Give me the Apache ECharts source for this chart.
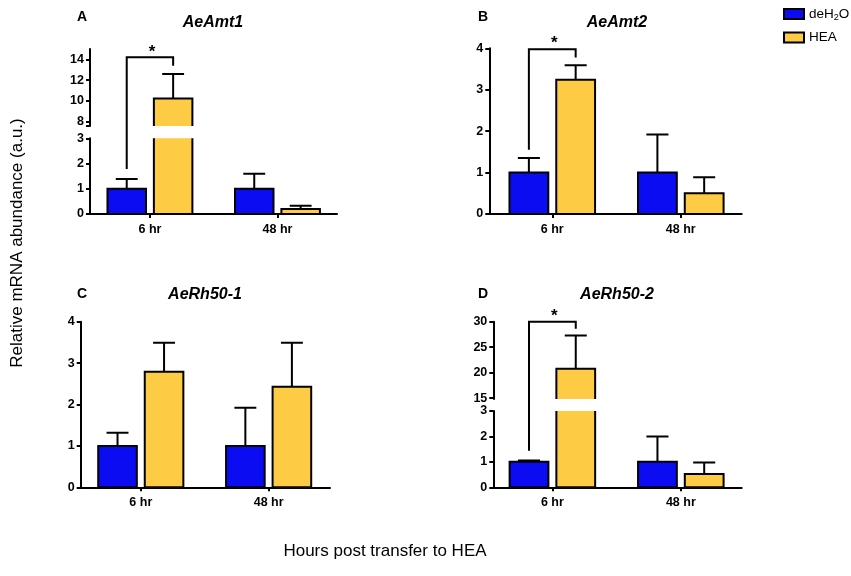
<!DOCTYPE html>
<html>
<head>
<meta charset="utf-8">
<script src="https://cdn.jsdelivr.net/npm/echarts@6.0.0/dist/echarts.min.js"></script>
<style>
  html, body { margin: 0; padding: 0; background: #fff; }
  #main { width: 851px; height: 576px; }
</style>
</head>
<body>
<div id="main"></div>
<script>
let chart = echarts.init(document.getElementById('main'));

// categories (x positions 0 and 1)
const groups = ['6 hr', '48 hr'];

// A: AeAmt1
const amt1Water = [1.0, 1.0];
const amt1WaterErr = [0.39, 0.6];
const amt1Hea = [10.25, 0.2];
const amt1HeaErr = [2.35, 0.13];

// B: AeAmt2
const amt2Water = [1.0, 1.0];
const amt2WaterErr = [0.35, 0.92];
const amt2Hea = [3.24, 0.5];
const amt2HeaErr = [0.35, 0.39];

// C: AeRh50-1
const rh1Water = [1.0, 1.0];
const rh1WaterErr = [0.32, 0.92];
const rh1Hea = [2.79, 2.43];
const rh1HeaErr = [0.7, 1.06];

// D: AeRh50-2
const rh2Water = [1.0, 1.0];
const rh2WaterErr = [0.05, 1.0];
const rh2Hea = [20.8, 0.52];
const rh2HeaErr = [6.5, 0.46];

// significance brackets: [bottom of left leg, top, bottom of right leg]
const sigA = [1.78, 14.2, 13.4];
const sigB = [1.55, 3.98, 3.78];
const sigD = [1.44, 30, 28.6];

const BLUE = '#0c0cf2';
const GOLD = '#fecb45';
const FONT = '"Liberation Sans", Arial, sans-serif';
const OFF = 0.182;   // bar offset from group center (x units)
const HALF = 0.151;  // half bar width
const CAP = 0.078;   // half error cap width

function barRenderer(offset, color) {
    return function (params, api) {
        let x = api.value(0) + offset;
        let v = api.value(1);
        let e = api.value(2);
        let p0 = api.coord([x - HALF, 0]);
        let p1 = api.coord([x + HALF, v]);
        let pe = api.coord([x, v + e]);
        let cl = api.coord([x - CAP, v + e]);
        let cr = api.coord([x + CAP, v + e]);
        let line = { stroke: '#000', lineWidth: 2 };
        return {
            type: 'group',
            children: [
                { type: 'line', shape: { x1: pe[0], y1: p1[1], x2: pe[0], y2: pe[1] }, style: line },
                { type: 'line', shape: { x1: cl[0] - 1, y1: pe[1], x2: cr[0] + 1, y2: pe[1] }, style: line },
                { type: 'rect', shape: { x: p0[0], y: p1[1], width: p1[0] - p0[0], height: p0[1] - p1[1] },
                  style: { fill: color, stroke: '#000', lineWidth: 2 } }
            ]
        };
    };
}

function pairs(means, errs) {
    return groups.map((g, i) => [i, means[i], errs[i]]);
}

// grids: 0 A upper, 1 A lower, 2 B, 3 C, 4 D upper, 5 D lower
const grids = [
    { left: 90, top: 49, width: 247, height: 77 },
    { left: 90, top: 138.3, width: 247, height: 75.7 },
    { left: 489.3, top: 48.3, width: 252.4, height: 165.7 },
    { left: 80.7, top: 321.7, width: 249.3, height: 165.6 },
    { left: 493.3, top: 321.7, width: 248.4, height: 77.3 },
    { left: 493.3, top: 411, width: 248.4, height: 76.3 }
];
const xRanges = [[-0.47, 1.467], [-0.47, 1.467], [-0.49, 1.474], [-0.47, 1.48], [-0.46, 1.474], [-0.46, 1.474]];
const xVisible = [false, true, true, true, false, true];
const yRanges = [[7.6, 15], [0, 3], [0, 4], [0, 4], [14.85, 30], [0, 3]];
const yTicks = [[8, 10, 12, 14], [0, 1, 2, 3], [0, 1, 2, 3, 4], [0, 1, 2, 3, 4], [15, 20, 25, 30], [0, 1, 2, 3]];

const lineStyle = { color: '#000', width: 2 };
const labelFont = { color: '#000', fontFamily: FONT, fontWeight: 'bold', fontSize: 12.5 };

let xAxes = grids.map((g, i) => ({
    type: 'value', gridIndex: i, min: xRanges[i][0], max: xRanges[i][1],
    show: xVisible[i], position: 'bottom',
    axisLine: { show: true, onZero: false, lineStyle: lineStyle },
    axisTick: { show: true, length: 4, lineStyle: lineStyle, customValues: [0, 1] },
    axisLabel: Object.assign({ customValues: [0, 1], margin: 9, formatter: v => groups[Math.round(v)] }, labelFont),
    splitLine: { show: false }
}));

let yAxes = grids.map((g, i) => ({
    type: 'value', gridIndex: i, min: yRanges[i][0], max: yRanges[i][1],
    position: 'left',
    axisLine: { show: true, onZero: false, lineStyle: lineStyle },
    axisTick: { show: true, length: 4, lineStyle: lineStyle,
                customValues: (i === 0 ? [yRanges[i][0]] : []).concat(yTicks[i]) },
    axisLabel: Object.assign({ customValues: yTicks[i], margin: 6 }, labelFont),
    splitLine: { show: false }
}));

const panelData = [
    [amt1Water, amt1WaterErr, amt1Hea, amt1HeaErr],
    [amt1Water, amt1WaterErr, amt1Hea, amt1HeaErr],
    [amt2Water, amt2WaterErr, amt2Hea, amt2HeaErr],
    [rh1Water, rh1WaterErr, rh1Hea, rh1HeaErr],
    [rh2Water, rh2WaterErr, rh2Hea, rh2HeaErr],
    [rh2Water, rh2WaterErr, rh2Hea, rh2HeaErr]
];

let series = [];
panelData.forEach((d, i) => {
    series.push({
        type: 'custom', name: 'deH2O', xAxisIndex: i, yAxisIndex: i, clip: true,
        itemStyle: { color: BLUE },
        renderItem: barRenderer(-OFF, BLUE), data: pairs(d[0], d[1])
    });
    series.push({
        type: 'custom', name: 'HEA', xAxisIndex: i, yAxisIndex: i, clip: true,
        itemStyle: { color: GOLD },
        renderItem: barRenderer(OFF, GOLD), data: pairs(d[2], d[3])
    });
});

const titleFont = { color: '#000', fontFamily: FONT, fontWeight: 'bold', fontStyle: 'italic', fontSize: 16 };
const letterFont = { color: '#000', fontFamily: FONT, fontWeight: 'bold', fontSize: 14 };

let option = {
    animation: false,
    backgroundColor: '#fff',
    title: [
        { text: 'AeAmt1', left: 213, top: 15, textAlign: 'center', textStyle: titleFont, padding: 0 },
        { text: 'AeAmt2', left: 617, top: 15, textAlign: 'center', textStyle: titleFont, padding: 0 },
        { text: 'AeRh50-1', left: 205, top: 287, textAlign: 'center', textStyle: titleFont, padding: 0 },
        { text: 'AeRh50-2', left: 617, top: 287, textAlign: 'center', textStyle: titleFont, padding: 0 },
        { text: 'A', left: 77, top: 10, textStyle: letterFont, padding: 0 },
        { text: 'B', left: 478, top: 10, textStyle: letterFont, padding: 0 },
        { text: 'C', left: 77, top: 287, textStyle: letterFont, padding: 0 },
        { text: 'D', left: 478, top: 287, textStyle: letterFont, padding: 0 }
    ],
    legend: {
        orient: 'vertical', left: 778, top: 2, icon: 'rect',
        itemWidth: 20, itemHeight: 10, itemGap: 8,
        data: [
            { name: 'deH2O', itemStyle: { color: BLUE, borderColor: '#000', borderWidth: 2 } },
            { name: 'HEA', itemStyle: { color: GOLD, borderColor: '#000', borderWidth: 2 } }
        ],
        formatter: n => n === 'deH2O' ? '{a|deH}{s|2}{a|O}' : '{a|HEA}',
        textStyle: {
            rich: {
                a: { fontFamily: FONT, fontSize: 13.5, color: '#000', lineHeight: 17 },
                s: { fontFamily: FONT, fontSize: 9, color: '#000', lineHeight: 9, verticalAlign: 'bottom' }
            }
        }
    },
    grid: grids,
    xAxis: xAxes,
    yAxis: yAxes,
    series: series
};

chart.setOption(option);

function px(g, x, y) {
    return chart.convertToPixel({ xAxisIndex: g, yAxisIndex: g }, [x, y]);
}

function bracket(lowGrid, topGrid, sig) {
    let pts = [
        px(lowGrid, -OFF, sig[0]),
        px(topGrid, -OFF, sig[1]),
        px(topGrid, OFF, sig[1]),
        px(topGrid, OFF, sig[1 + 1])
    ];
    let mid = px(topGrid, 0, sig[1]);
    return [
        { type: 'polyline', shape: { points: pts }, style: { stroke: '#000', lineWidth: 2, fill: null }, z: 10 },
        { type: 'text', x: mid[0] + 2, y: mid[1] + 3,
          style: { text: '*', fontFamily: FONT, fontWeight: 'bold', fontSize: 17, fill: '#000',
                   align: 'center', verticalAlign: 'bottom' }, z: 10 }
    ];
}

let graphics = [
    { type: 'text', x: 17, y: 243, rotation: Math.PI / 2,
      style: { text: 'Relative mRNA abundance (a.u.)', fontFamily: FONT, fontSize: 17, fill: '#000',
               align: 'center', verticalAlign: 'middle' } },
    { type: 'text', x: 385, y: 551,
      style: { text: 'Hours post transfer to HEA', fontFamily: FONT, fontSize: 17, fill: '#000',
               align: 'center', verticalAlign: 'middle' } }
].concat(bracket(1, 0, sigA), bracket(2, 2, sigB), bracket(5, 4, sigD));

chart.setOption({ graphic: graphics });
</script>
</body>
</html>
